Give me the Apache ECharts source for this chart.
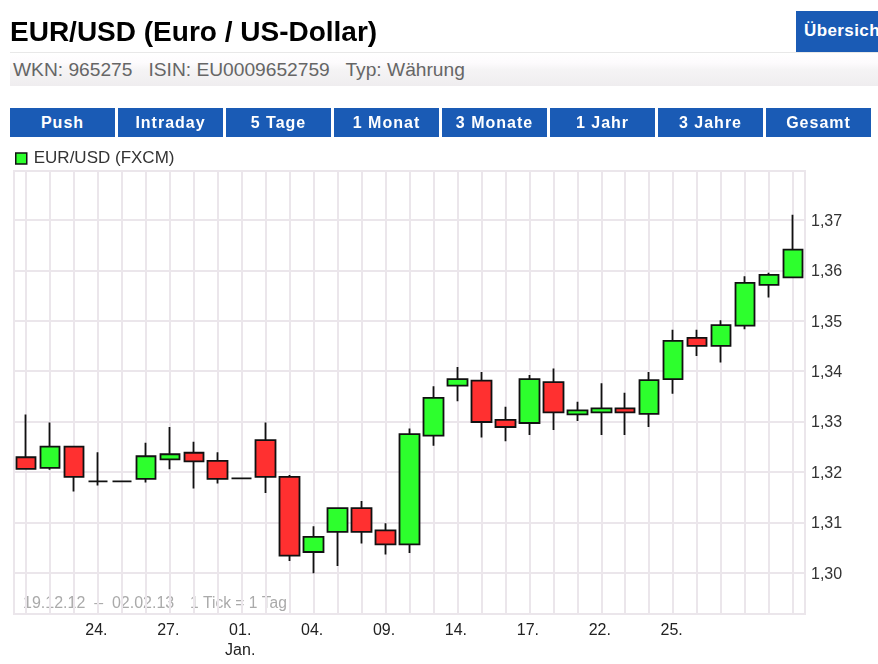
<!DOCTYPE html>
<html>
<head>
<meta charset="utf-8">
<title>EUR/USD</title>
<script src="https://cdn.jsdelivr.net/npm/echarts@6/dist/echarts.min.js"></script>
<style>
  html, body { margin: 0; padding: 0; background: #fff; overflow: hidden; }
  body { width: 878px; height: 664px; position: relative; font-family: "Liberation Sans", sans-serif; }
  #chart { position: absolute; left: 0; top: 0; width: 878px; height: 664px; }
  #title { position: absolute; left: 10px; top: 16px; font-size: 28px; font-weight: bold; color: #000; white-space: nowrap; }
  #info {
    position: absolute; left: 10px; top: 52px; width: 868px; height: 33px; line-height: 33px;
    border-top: 1px solid #e8e8e8; background: linear-gradient(#fff, #fdfbfd 30%, #f5f4f5 50%, #efedef);
    font-size: 19.2px; color: #666; white-space: pre; text-indent: 3px;
  }
  #overview {
    position: absolute; left: 796px; top: 11px; width: 82px; height: 41px; line-height: 39px; overflow: hidden;
    background: #1a5bb5; color: #fff; font-size: 17px; font-weight: bold; text-indent: 8px; white-space: nowrap; letter-spacing: .4px;
  }
  .range {
    position: absolute; top: 108px; width: 105px; height: 29px; line-height: 29px; text-align: center;
    background: #1a5bb5; color: #fff; font-size: 16px; font-weight: bold; letter-spacing: 1px;
  }
</style>
</head>
<body>
<div id="chart"></div>
<div id="title">EUR/USD (Euro / US-Dollar)</div>
<div id="info">WKN: 965275   ISIN: EU0009652759   Typ: Währung</div>
<div id="overview">Übersicht</div>
<div id="ranges"></div>
<script>
const rangeLabels = ["Push", "Intraday", "5 Tage", "1 Monat", "3 Monate", "1 Jahr", "3 Jahre", "Gesamt"];

const dates = [
  "2012-12-19", "2012-12-20", "2012-12-21", "2012-12-24", "2012-12-25", "2012-12-26", "2012-12-27",
  "2012-12-28", "2012-12-31", "2013-01-01", "2013-01-02", "2013-01-03", "2013-01-04", "2013-01-07",
  "2013-01-08", "2013-01-09", "2013-01-10", "2013-01-11", "2013-01-14", "2013-01-15", "2013-01-16",
  "2013-01-17", "2013-01-18", "2013-01-21", "2013-01-22", "2013-01-23", "2013-01-24", "2013-01-25",
  "2013-01-28", "2013-01-29", "2013-01-30", "2013-01-31", "2013-02-01",
];
const opens = [
  1.3229, 1.3208, 1.3250, 1.3181, 1.3181, 1.3186, 1.3225, 1.3238, 1.3222, 1.3187, 1.3263,
  1.3190, 1.3041, 1.3081, 1.3128, 1.3084, 1.3056, 1.3272, 1.3371, 1.3381, 1.3303, 1.3297,
  1.3378, 1.3314, 1.3318, 1.3326, 1.3315, 1.3384, 1.3466, 1.3450, 1.3490, 1.3571, 1.3586,
];
const closes = [
  1.3206, 1.3250, 1.3190, 1.3181, 1.3181, 1.3231, 1.3235, 1.3221, 1.3186, 1.3187, 1.3190,
  1.3034, 1.3071, 1.3128, 1.3081, 1.3056, 1.3275, 1.3347, 1.3384, 1.3299, 1.3289, 1.3384,
  1.3318, 1.3322, 1.3326, 1.3318, 1.3382, 1.3460, 1.3450, 1.3491, 1.3575, 1.3591, 1.3641,
];
const lows = [
  1.3206, 1.3204, 1.3161, 1.3173, 1.3181, 1.3179, 1.3205, 1.3167, 1.3177, 1.3187, 1.3158,
  1.3023, 1.2999, 1.3013, 1.3058, 1.3036, 1.3039, 1.3252, 1.3340, 1.3268, 1.3261, 1.3273,
  1.3283, 1.3301, 1.3273, 1.3273, 1.3289, 1.3355, 1.3430, 1.3417, 1.3483, 1.3546, 1.3586,
];
const highs = [
  1.3314, 1.3298, 1.3250, 1.3239, 1.3181, 1.3258, 1.3289, 1.3260, 1.3239, 1.3187, 1.3298,
  1.3194, 1.3092, 1.3128, 1.3142, 1.3098, 1.3286, 1.3370, 1.3408, 1.3398, 1.3329, 1.3392,
  1.3405, 1.3339, 1.3376, 1.3357, 1.3398, 1.3482, 1.3482, 1.3501, 1.3588, 1.3595, 1.3710,
];
const yTicks = [1.30, 1.31, 1.32, 1.33, 1.34, 1.35, 1.36, 1.37];
const xTickDates = [
  "2012-12-24", "2012-12-27", "2013-01-01", "2013-01-04", "2013-01-09",
  "2013-01-14", "2013-01-17", "2013-01-22", "2013-01-25",
];

document.getElementById("ranges").innerHTML = rangeLabels
  .map((t, i) => `<div class="range" style="left:${10 + i * 108}px">${t}</div>`)
  .join("");

const GREEN = "#2dff2d";
const RED = "#ff3030";
const GRID = "#ebe6eb";

const chart = echarts.init(document.getElementById("chart"), null, { renderer: "canvas" });
chart.setOption({
  animation: false,
  textStyle: { fontFamily: "Liberation Sans" },
  legend: {
    left: 10,
    top: 145,
    itemWidth: 11,
    itemHeight: 11,
    itemGap: 9,
    textStyle: { fontSize: 17, color: "#333", padding: [0, 0, 0, 2] },
    data: [{ name: "EUR/USD (FXCM)", icon: "rect", itemStyle: { color: GREEN, borderColor: "#111", borderWidth: 1.5 } }],
  },
  grid: { left: 14, top: 171, width: 791, height: 443, show: true, borderColor: GRID, borderWidth: 2, backgroundColor: "#fff" },
  xAxis: {
    type: "category",
    data: dates,
    axisLine: { show: false },
    axisTick: { show: false },
    splitLine: { show: true, interval: 0, alignWithLabel: true, lineStyle: { color: GRID, width: 2 } },
    axisLabel: {
      interval: (i, value) => xTickDates.includes(value),
      hideOverlap: false,
      margin: 7,
      fontSize: 16,
      lineHeight: 20,
      padding: [0, 3, 0, 0],
      color: "#222",
      formatter: (value) => {
        const day = value.slice(8) + ".";
        return value === "2013-01-01" ? day + "\nJan." : day;
      },
    },
  },
  yAxis: {
    type: "value",
    position: "right",
    scale: true,
    min: 1.2918,
    max: 1.3797,
    axisLine: { show: false },
    axisTick: { show: false, customValues: yTicks },
    splitLine: { show: true, lineStyle: { color: GRID, width: 2 } },
    axisLabel: {
      customValues: yTicks,
      margin: 6,
      color: "#333",
      rich: { v: { fontSize: 16, color: "#333", padding: [3, 0, 0, 0] } },
      formatter: (value) => "{v|" + value.toFixed(2).replace(".", ",") + "}",
    },
  },
  series: [
    {
      name: "EUR/USD (FXCM)",
      type: "candlestick",
      barWidth: 20,
      itemStyle: {
        color: GREEN,
        color0: RED,
        borderColor: "#111",
        borderColor0: "#111",
        borderColorDoji: "#111",
        borderWidth: 1.8,
      },
      data: dates.map((d, i) => [opens[i], closes[i], lows[i], highs[i]]),
    },
  ],
  graphic: [
    {
      type: "text",
      left: 23,
      top: 596,
      style: { text: "19.12.12  –  02.02.13", fill: "#aaa", font: '16px "Liberation Sans"' },
    },
    {
      type: "text",
      left: 190,
      top: 596,
      style: { text: "1 Tick = 1 Tag", fill: "#aaa", font: '15.6px "Liberation Sans"' },
    },
  ],
});
</script>
</body>
</html>
